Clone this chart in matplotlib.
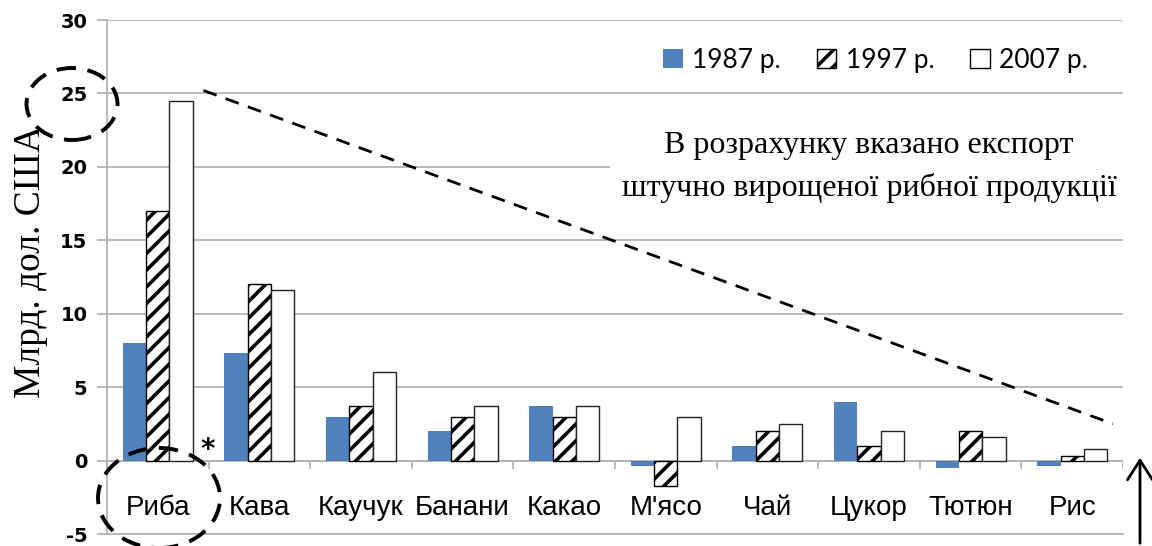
import numpy as np
import matplotlib
matplotlib.use("Agg")
import matplotlib.pyplot as plt
from matplotlib.patches import Ellipse, Patch, FancyArrowPatch

categories = ["Риба", "Кава", "Каучук", "Банани", "Какао", "М'ясо", "Чай", "Цукор", "Тютюн", "Рис"]
years = ["1987 р.", "1997 р.", "2007 р."]
v1987 = [8.0, 7.3, 3.0, 2.0, 3.7, -0.4, 1.0, 4.0, -0.5, -0.4]
v1997 = [17.0, 12.0, 3.7, 3.0, 3.0, -1.7, 2.0, 1.0, 2.0, 0.3]
v2007 = [24.5, 11.6, 6.0, 3.7, 3.7, 3.0, 2.5, 2.0, 1.6, 0.8]
yticks = [-5, 0, 5, 10, 15, 20, 25, 30]
ylabel = "Млрд. дол. США"
note = "В розрахунку вказано експорт\nштучно вирощеної рибної продукції"

plt.rcParams['hatch.linewidth'] = 2.6
plt.rcParams['axes.unicode_minus'] = False

W, H = 1152, 546
fig = plt.figure(figsize=(W / 100, H / 100), dpi=100)
L, R, T, B = 107, 1123, 20, 534
ax = fig.add_axes([L / W, 1 - B / H, (R - L) / W, (B - T) / H])

x = np.arange(len(categories))
bw = 0.23
grid_c = "#b4b4b4"

ax.set_xlim(-0.5, len(categories) - 0.5)
ax.set_ylim(yticks[0], yticks[-1])
ax.set_yticks(yticks)
ax.yaxis.grid(True, color=grid_c, linewidth=1.3)
ax.set_axisbelow(True)
ax.set_xticks([])
for s in ["top", "right"]:
    ax.spines[s].set_visible(False)
for s in ["left", "bottom"]:
    ax.spines[s].set_color(grid_c)
    ax.spines[s].set_linewidth(1.3)
ax.tick_params(axis="y", length=7, color=grid_c, width=1.3, pad=7)
for lab in ax.get_yticklabels():
    lab.set_fontweight("bold")
    lab.set_fontsize(14)
    lab.set_fontfamily("DejaVu Sans")

# zero axis with category separator ticks
ax.axhline(0, color=grid_c, linewidth=1.3, zorder=1)
bounds = np.arange(len(categories) + 1) - 0.5
ax.vlines(bounds, -0.6, 0, color=grid_c, linewidth=1.3, zorder=1)

ax.bar(x - bw, v1987, bw, color="#4f81bd", edgecolor="none", zorder=3)
ax.bar(x, v1997, bw, color="white", edgecolor="black", hatch="//", linewidth=1.0, zorder=3)
ax.bar(x + bw, v2007, bw, color="white", edgecolor="#222222", linewidth=1.0, zorder=3)

for xi, c in zip(x, categories):
    ax.text(xi, -3.2, c, ha="center", va="center", fontsize=20,
            family=["Liberation Sans Narrow", "Liberation Sans"], zorder=4)

fig.text(31 / W, 1 - 262 / H, ylabel, rotation=90, ha="center", va="center",
         fontsize=27, family="Liberation Serif")

# note box covering gridline
fig.text(869 / W, 1 - 167 / H, note, ha="center", va="center", fontsize=23,
         family="Liberation Serif", linespacing=1.6,
         bbox=dict(facecolor="white", edgecolor="none", pad=8), zorder=5)

# legend
handles = [Patch(facecolor="#4f81bd", edgecolor="none"),
           Patch(facecolor="white", edgecolor="black", hatch="//", linewidth=1.0),
           Patch(facecolor="white", edgecolor="black", linewidth=1.0)]
leg = fig.legend(handles, years, loc="center right", bbox_to_anchor=(1088 / W, 1 - 60 / H),
                 ncol=3, frameon=False, handlelength=0.75, handleheight=0.75,
                 handletextpad=0.35, columnspacing=1.35, borderpad=0, borderaxespad=0,
                 prop={"family": "Lato", "size": 19})

# dashed trend line
ax.plot([0.45, 9.40], [25.2, 2.5], linestyle=(0, (5, 3.5)), color="black",
        linewidth=2, zorder=6, clip_on=False)

# dashed ellipses (figure pixel coords)
def fig_ellipse(cx, cy, w, h):
    e = Ellipse((cx / W, 1 - cy / H), w / W, h / H, transform=fig.transFigure,
                fill=False, edgecolor="black", linewidth=2.8, linestyle=(0, (5, 3)),
                zorder=7, clip_on=False)
    fig.add_artist(e)

fig_ellipse(72, 104, 91, 72)
fig_ellipse(159, 498, 122, 100)

fig.text(208 / W, 1 - 450 / H, "*", ha="center", va="center", fontsize=20,
         fontweight="bold", family="DejaVu Sans")

# arrow at the right
fig.add_artist(FancyArrowPatch(
    (1140 / W, 0.0), (1140 / W, 1 - 455 / H), transform=fig.transFigure,
    arrowstyle="->,head_length=0.7,head_width=0.45", mutation_scale=20,
    color="black", linewidth=2))

fig.savefig("out.png", dpi=100)
